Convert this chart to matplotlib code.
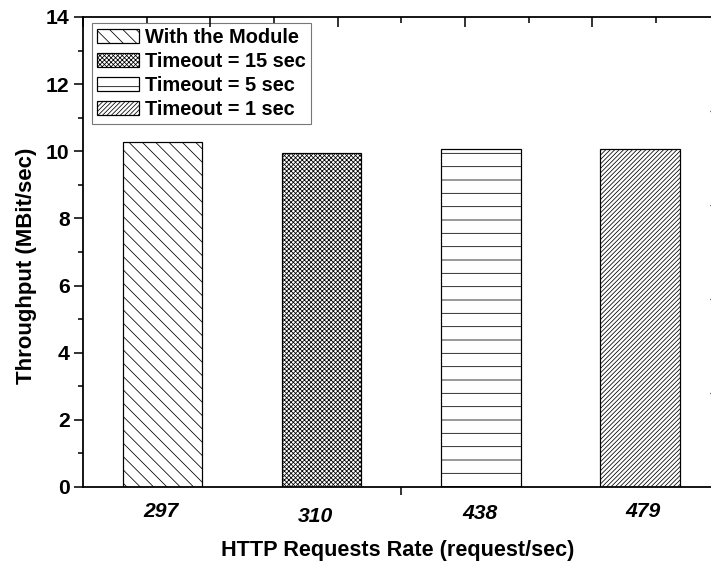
import matplotlib
matplotlib.use("Agg")
import matplotlib.pyplot as plt
import matplotlib.transforms as mtransforms

# data
rates = ["297", "310", "438", "479"]
throughput = [10.28, 9.95, 10.08, 10.08]
labels = ["With the Module", "Timeout = 15 sec", "Timeout = 5 sec", "Timeout = 1 sec"]
hatches = ["\\\\", "xxxxxx", "-", "//////"]

plt.rcParams['font.family'] = ['Liberation Sans', 'DejaVu Sans']
plt.rcParams['font.weight'] = 'bold'
plt.rcParams['hatch.linewidth'] = 0.7

DPI = 80
fig = plt.figure(figsize=(711 / DPI, 567 / DPI), dpi=DPI)
ax = fig.add_axes([83 / 711, 1 - 487 / 567, (719.5 - 83) / 711, (487 - 17) / 567])

xpos = list(range(1, len(rates) + 1))
for x, v, h, lab in zip(xpos, throughput, hatches, labels):
    ax.bar(x, v, width=0.5, color='white', edgecolor='black', linewidth=1.1,
           hatch=h, label=lab, zorder=2)

ax.set_xlim(0.5, 4.5)
ax.set_ylim(0, 14)
ax.set_yticks(range(0, 15, 2))
ax.set_yticks(range(0, 15), minor=True)
ax.tick_params(axis='y', which='major', direction='out', length=8, width=1.4,
               labelsize=19, pad=4)
ax.tick_params(axis='y', which='minor', direction='out', length=4.5, width=1.4)

ax.set_xticks(xpos)
ax.set_xticklabels(rates, fontsize=19, fontstyle='italic', fontweight='bold')
ax.set_xticks([2.5], minor=True)
ax.tick_params(axis='x', which='major', length=0, pad=12)
ax.tick_params(axis='x', which='minor', direction='out', length=7, width=1.4)

# staggered tick labels like the original export
offsets = [(-2, -2), (-6, -7), (-1, -4), (3, -2)]
for lbl, (dx, dy) in zip(ax.get_xticklabels(), offsets):
    lbl.set_transform(lbl.get_transform() +
                      mtransforms.ScaledTranslation(dx / DPI, dy / DPI, fig.dpi_scale_trans))

for s in ax.spines.values():
    s.set_linewidth(1.6)

ax.set_ylabel("Throughput (MBit/sec)", fontsize=20, fontweight='bold', labelpad=8)
ax.set_xlabel("HTTP Requests Rate (request/sec)", fontsize=19.5, fontweight='bold', labelpad=12)
ax.yaxis.label.set_y(0.47)
ax.xaxis.label.set_x(0.494)

# top axis ticks (inward)
top = ax.twiny()
top.set_xlim(0, 5)
top.set_xticks(range(0, 6))
top.set_xticks([0.5, 1.5, 2.5, 3.5, 4.5], minor=True)
top.tick_params(axis='x', which='major', direction='in', length=9, width=1.4, labeltop=False)
top.tick_params(axis='x', which='minor', direction='in', length=5, width=1.4)
for s in top.spines.values():
    s.set_visible(False)

# right axis ticks (clipped at figure edge)
right = ax.twinx()
right.set_ylim(0, 5)
right.set_yticks(range(1, 5))
right.tick_params(axis='y', direction='in', length=9, width=1.2, labelright=False)
for s in right.spines.values():
    s.set_visible(False)

leg = ax.legend(loc='upper left', bbox_to_anchor=(9 / 636.5, 1 - 6 / 470),
                fontsize=18, frameon=True, fancybox=False, edgecolor='#555555',
                handlelength=2.1, handleheight=0.7, handletextpad=0.3,
                labelspacing=0.25, borderpad=0.25, borderaxespad=0)
leg.get_frame().set_linewidth(1.0)
leg.set_zorder(5)

fig.savefig("out.png", dpi=DPI)
